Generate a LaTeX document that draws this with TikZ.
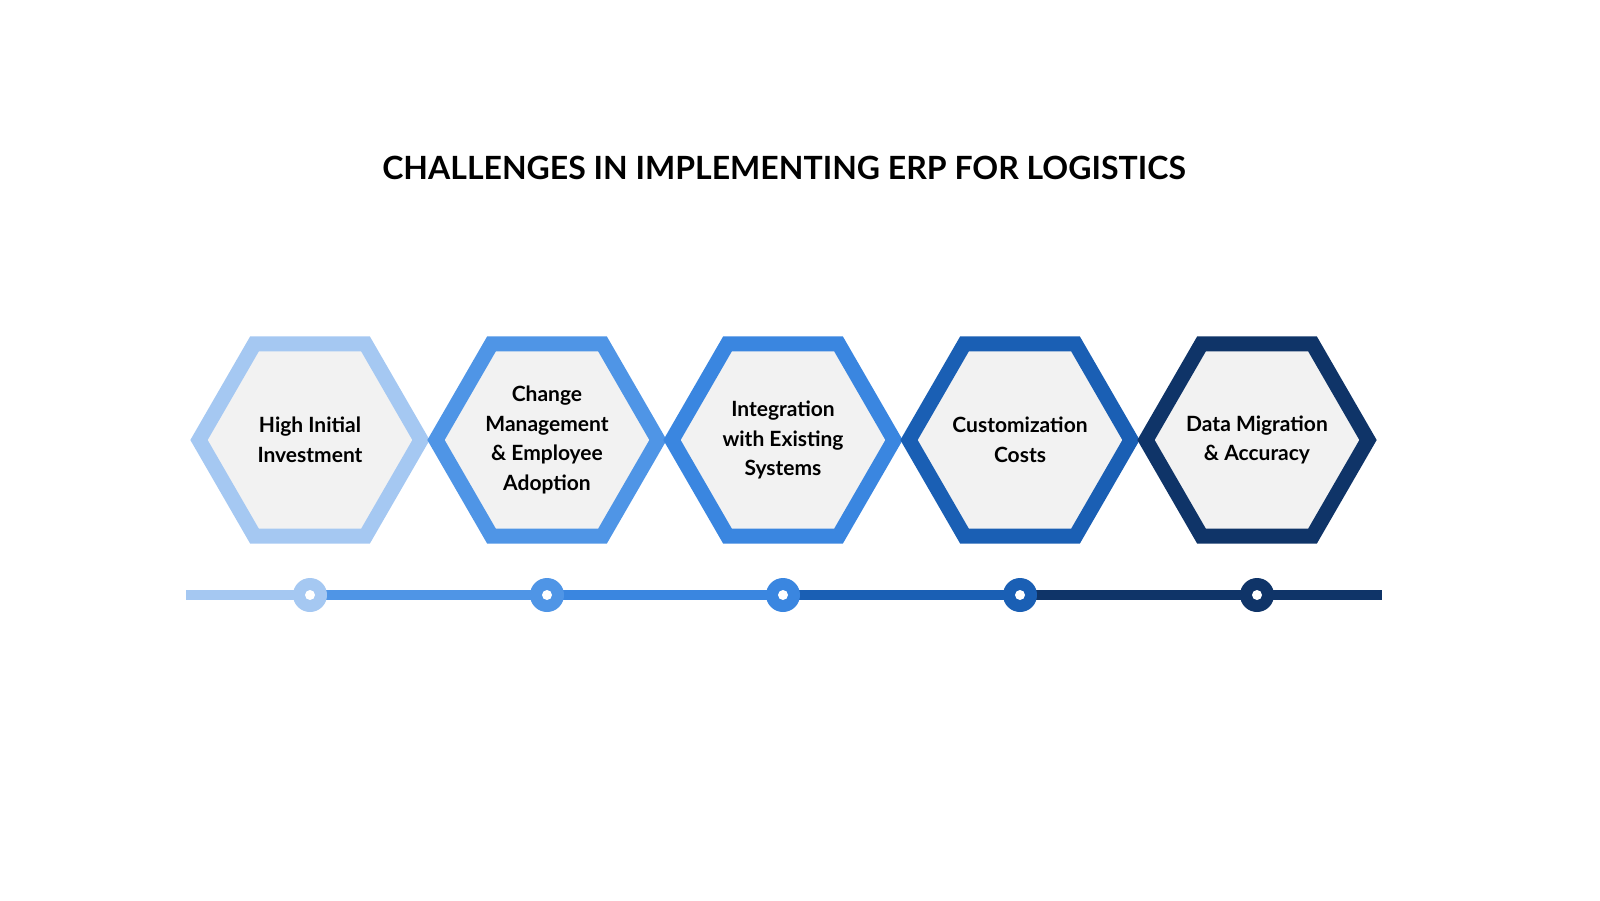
\documentclass[tikz,border=0pt]{standalone}
\usepackage{fontspec}
\setmainfont{Lato}
\usetikzlibrary{shapes.geometric}
\definecolor{cA}{HTML}{A5C8F2}
\definecolor{cB}{HTML}{4F95E6}
\definecolor{cC}{HTML}{3A86E0}
\definecolor{cD}{HTML}{1A5FB4}
\definecolor{cE}{HTML}{0F3468}
\definecolor{hexfill}{HTML}{F2F2F2}
\begin{document}
\begin{tikzpicture}[x=1pt,y=-1pt,
  hex/.style={regular polygon,regular polygon sides=6,minimum size=222pt,inner sep=0pt,line width=15pt,fill=hexfill,draw=#1},
  lbl/.style={align=center,font=\fontsize{21}{29.5}\selectfont\bfseries,text=black},
  dot/.style={circle,minimum size=34pt,inner sep=0pt,fill=#1},
  hole/.style={circle,minimum size=10pt,inner sep=0pt,fill=white},
  seg/.style={line width=10pt,draw=#1}]
\useasboundingbox (0,0) rectangle (1600,900);
\node[font=\fontsize{32}{38}\selectfont\bfseries] (title) at (784,168) {CHALLENGES IN IMPLEMENTING ERP FOR LOGISTICS};
\foreach \i/\x/\c in {1/310/cA,2/547/cB,3/783/cC,4/1020/cD,5/1257/cE}{
  \node[hex=\c] (h\i) at (\x,440) {};
  \coordinate (p\i) at (\x,595);
}
\node[lbl] (t1) at (h1) {High Initial\\Investment};
\node[lbl] (t2) at (h2) {Change\\Management\\\& Employee\\Adoption};
\node[lbl] (t3) at (h3) {Integration\\with Existing\\Systems};
\node[lbl] (t4) at (h4) {Customization\\Costs};
\node[lbl] (t5) at (h5) {Data Migration\\\& Accuracy};
\coordinate (s) at (186,595);
\coordinate (e) at (1382,595);
\draw[seg=cA] (s) -- (p1);
\draw[seg=cB] (p1) -- (p2);
\draw[seg=cC] (p2) -- (p3);
\draw[seg=cD] (p3) -- (p4);
\draw[seg=cE] (p4) -- (e);
\foreach \i/\c in {1/cA,2/cB,3/cC,4/cD,5/cE}{
  \node[dot=\c] (d\i) at (p\i) {};
  \node[hole] (o\i) at (p\i) {};
}
\end{tikzpicture}
\end{document}
